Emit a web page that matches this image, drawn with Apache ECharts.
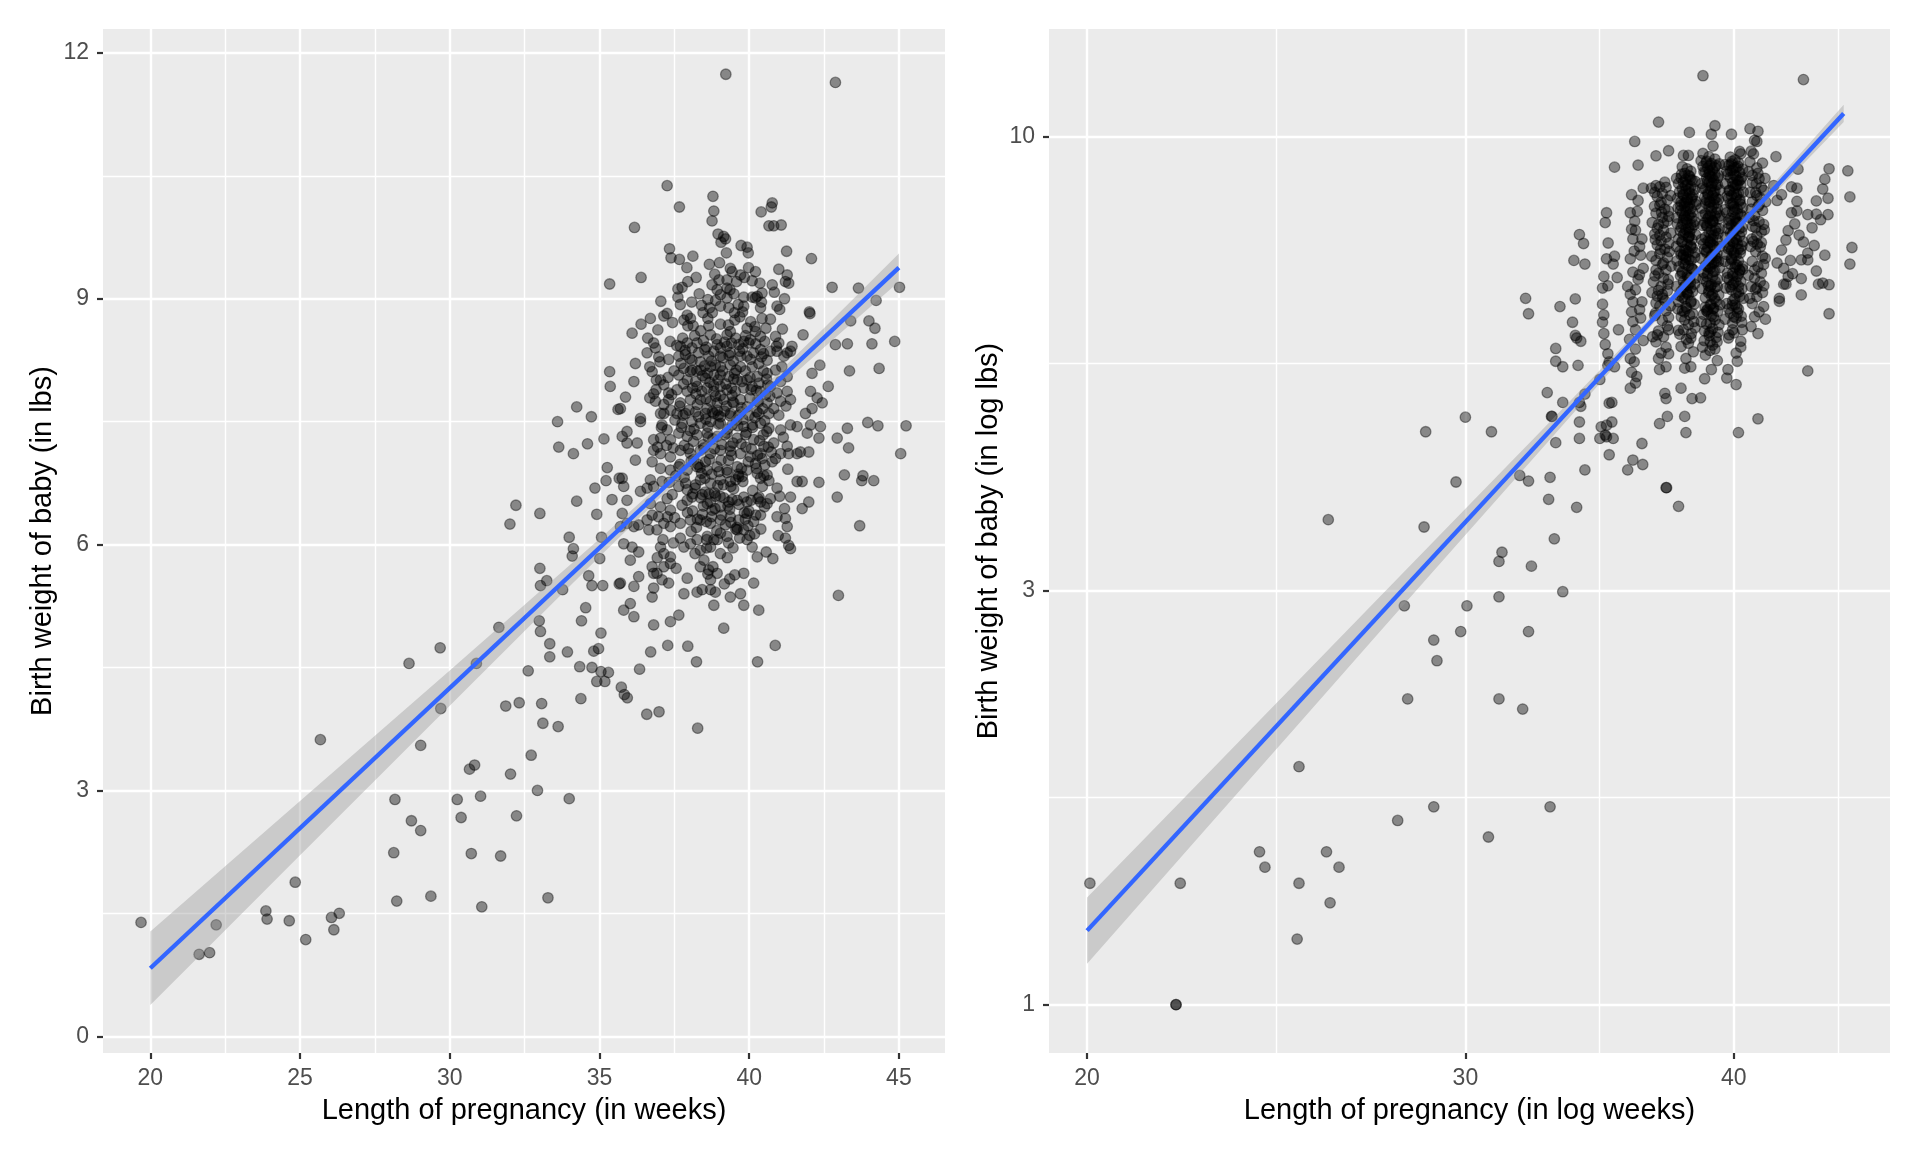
<!DOCTYPE html>
<html><head><meta charset="utf-8">
<script src="https://cdn.jsdelivr.net/npm/echarts@6/dist/echarts.min.js"></script>
<style>html,body{margin:0;padding:0;background:#fff}#c{width:1920px;height:1152px}</style>
</head><body><div id="c"></div>
<script>
// ---------- tick labels / grid breaks ----------
const leftXTicks = [20, 25, 30, 35, 40, 45];
const leftXMinor = [22.5, 27.5, 32.5, 37.5, 42.5];
const leftYTicks = [0, 3, 6, 9, 12];
const leftYMinor = [1.5, 4.5, 7.5, 10.5];
const rightXTicks = [20, 30, 40];
const rightXMinor = [24.49, 34.64, 44.72];
const rightYTicks = [1, 3, 10];
const rightYMinor = [1.732, 5.477];

// ---------- fitted lines and confidence bands ----------
const leftLineWeeks = [20, 45];
const leftLineLbs = [0.83, 9.38];
const leftBandWeeks = [20, 22.5, 25, 27.5, 30, 32.5, 35, 37.5, 40, 42.5, 45];
const leftBandLow  = [0.381, 1.295, 2.209, 3.122, 4.035, 4.945, 5.851, 6.741, 7.591, 8.406, 9.209];
const leftBandHigh = [1.279, 2.075, 2.871, 3.668, 4.465, 5.265, 6.069, 6.889, 7.749, 8.644, 9.551];

const rightLineWeeks = [20, 45];
const rightLineLbs = [1.217, 10.63];
const rightBandWeeks = [20, 22.5, 25, 27.5, 30, 32.5, 35, 37.5, 40, 42.5, 45];
const rightBandLow  = [1.115, 1.552, 2.085, 2.724, 3.476, 4.347, 5.345, 6.463, 7.675, 8.978, 10.39];
const rightBandHigh = [1.329, 1.792, 2.343, 2.985, 3.725, 4.567, 5.521, 6.602, 7.849, 9.279, 10.88];

// ---------- left panel points (weeks, lbs) ----------
const leftSparse = [[19.69,1.39],[21.63,1.00],[21.98,1.02],[22.2,1.36],[23.86,1.53],[23.9,1.43],[24.64,1.41],[24.84,1.88],[25.19,1.18],[25.68,3.62],[26.05,1.45],[26.13,1.30],[26.31,1.50],
[28.13,2.24],[28.17,2.89],[28.23,1.65],[28.64,4.55],[28.72,2.63],[29.03,3.55],[29.03,2.51],[29.37,1.71],[29.68,4.74],[29.70,4.00],[30.25,2.89],[30.38,2.67],[30.66,3.26],[30.72,2.23],[30.83,3.31],[30.89,4.55],[31.03,2.93],[31.07,1.58],[31.64,4.99],[31.70,2.20],[31.87,4.03],[32.01,6.25],[32.03,3.20],[32.21,6.48],[32.23,2.69],[32.32,4.07],[32.62,4.46],[32.72,3.43],[32.93,3.00],[32.99,5.07],[33.01,6.38],[33.01,5.71],[33.03,5.50],[33.03,4.94],[33.07,4.06],[33.11,3.82],[33.24,5.56],[33.28,1.69],[33.34,4.79],[33.34,4.63],[33.60,7.50],[33.62,3.78],[33.64,7.19],[33.77,5.45],[33.93,4.69],[33.99,6.09],[33.99,2.90],[34.13,7.11],[34.09,5.86],[34.13,5.95],[34.24,7.68],[34.24,6.53],[34.34,4.51],[34.38,4.12],[34.40,5.07],[34.54,5.23],[34.60,7.23],[34.64,5.62],[34.73,7.56],[34.75,5.50],[34.75,4.50],[34.81,4.70],[34.85,6.69],[34.91,4.33],[34.91,6.37],[34.97,4.73],[35.01,5.83],[35.05,4.45],[35.05,4.92],[35.07,6.09],[35.11,5.50],[35.15,7.29],[35.18,4.33],[35.22,6.78],[35.26,6.94],[35.30,4.44],[35.34,9.18],[35.34,8.11],[35.36,7.93],[35.42,6.55],[35.62,7.65],[35.66,5.52],[35.66,6.81],[35.73,4.26],[35.83,4.17],[35.93,4.13],[36.34,4.48],[36.58,3.93],[36.71,4.69],[36.99,3.96],[37.26,10.38],[37.28,4.77],[37.95,4.76],[38.24,4.57],[38.28,3.76],[38.79,10.25],[39.22,11.74],[40.28,4.57],[40.87,4.77],[42.88,11.64],[42.98,5.38],[42.94,6.58],[42.94,7.30],
[43.18,6.85],[43.28,7.42],[43.32,7.18],[43.35,8.12],[43.28,8.45],[43.39,8.73],[43.65,9.13],[43.69,6.23],[43.76,6.78],[43.80,6.84],[43.96,7.49],[44.0,8.73],[44.1,8.45],[44.16,6.78],[44.2,8.64],[44.24,8.98],[44.3,7.45],[44.34,8.15],[44.86,8.48],[45.02,9.14],[45.06,7.11],[45.24,7.45]];

const leftUpper = [[37.67,10.12],[38.82,10.07],[38.76,9.95],[36.17,9.87],[40.40,10.06],[40.77,10.17],[40.74,10.12],[40.66,9.89],[40.82,9.89],[41.07,9.90],[38.96,9.79],[39.15,9.76],[39.21,9.73],[39.06,9.69],[37.34,9.61],[37.39,9.50],[37.67,9.48],[38.12,9.52],[39.24,9.56],[39.73,9.65],[39.93,9.63],[39.97,9.56],[41.25,9.58],[42.08,9.49],[36.39,9.26],[39.37,9.37],[39.43,9.33],[38.85,9.30],[38.99,9.23],[39.26,9.23],[39.71,9.29],[39.84,9.26],[40.10,9.22],[40.21,9.33],[40.99,9.36],[41.27,9.29],[41.32,9.19],[41.21,9.21],[42.77,9.14],[40.77,9.17],[40.84,9.08],[37.95,9.21],[37.76,9.14],[37.62,9.12],[37.62,9.02],[38.76,9.17],[38.93,9.11],[39.26,9.13],[39.04,9.05],[39.26,9.01],[39.49,9.06],[39.82,9.02],[40.10,9.02],[40.27,9.03],[40.43,9.07],[41.18,9.00],[38.62,8.99],[38.68,8.89],[38.62,8.76],[39.04,8.91],[39.32,8.89],[39.51,8.83],[39.69,8.78],[37.70,8.93],[37.93,8.80],[38.04,8.76],[37.82,8.74],[37.95,8.67],[37.26,8.82],[37.15,8.79],[36.70,8.76],[36.39,8.69],[36.09,8.58],[39.82,8.91],[40.38,8.89],[40.43,8.76],[40.21,9.01],[40.93,8.91],[41.02,8.87],[42.03,8.82],[42.01,8.84],[38.65,8.67],[38.71,8.56],[39.04,8.69],[39.26,8.56],[39.37,8.60],[39.93,8.64],[40.04,8.50],[40.21,8.60],[40.38,8.54],[40.88,8.54],[40.91,8.42],[40.99,8.46],[41.43,8.42],[41.27,8.34],[41.80,8.56],[42.88,8.44],[42.36,8.19],[42.64,7.93],[42.10,8.09],[42.05,7.87],[42.27,7.79],[42.44,7.73],[42.10,7.66],[41.88,7.60],[36.61,8.52],[36.81,8.46],[36.87,8.40],[36.59,8.34],[36.20,8.21],[36.15,7.99],[35.87,7.80],[35.70,7.66],[36.68,8.17],[36.76,8.11],[36.98,8.29],[37.31,8.26],[36.90,8.01],[37.04,8.01],[37.15,7.95],[36.81,7.84],[36.68,7.79],[36.87,7.75],[37.15,7.71],[37.31,7.85],[37.31,7.77],[37.15,7.60],[36.37,7.54],[37.04,7.60]];

const leftCoreA = [[37.70,8.42],[37.93,8.46],[38.09,8.40],[38.26,8.46],[37.65,8.30],[37.87,8.32],[38.09,8.25],[38.37,8.23],[38.65,8.30],[38.82,8.36],[39.04,8.40],[39.26,8.42],[39.04,8.30],[39.37,8.34],[39.65,8.44],[39.82,8.48],[39.99,8.46],[39.71,8.30],[39.93,8.30],[40.15,8.34],[40.38,8.38],[40.71,8.36],[40.93,8.36],[41.16,8.30],[41.38,8.36],[40.60,8.25],[40.32,8.21],[40.10,8.17],[39.71,8.17],[39.37,8.19],[39.04,8.17],[38.71,8.17],[38.37,8.13],[38.09,8.13],[37.82,8.15],[37.65,8.07],[37.93,8.01],[38.21,7.99],[38.54,8.03],[38.82,8.07],[39.04,8.07],[39.32,8.05],[39.60,8.01],[39.93,8.01],[40.27,8.05],[40.60,8.09],[40.88,8.13],[41.05,7.99],[41.27,8.05],[37.59,7.89],[37.93,7.87],[38.26,7.93],[38.60,7.91],[38.82,7.87],[39.04,7.93],[39.26,7.89],[39.54,7.87],[39.82,7.91],[40.10,7.93],[40.38,7.87],[40.71,7.93],[40.93,7.85],[41.27,7.87],[41.38,7.77],[37.70,7.73],[38.04,7.77],[38.37,7.77],[38.71,7.75],[38.93,7.73],[39.15,7.77],[39.49,7.73],[39.71,7.77],[39.93,7.68],[40.27,7.75],[40.60,7.73],[40.82,7.66],[41.05,7.75],[37.59,7.60],[37.87,7.60],[38.21,7.62],[38.54,7.60],[38.82,7.60],[39.04,7.56],[39.37,7.60],[39.65,7.58],[39.99,7.58],[40.32,7.60],[40.66,7.60],[40.99,7.58]];

const leftCoreB = [[36.37,7.50],[37.09,7.46],[37.26,7.40],[37.76,7.48],[38.09,7.50],[38.37,7.48],[38.71,7.50],[39.04,7.48],[39.43,7.46],[39.82,7.44],[40.10,7.46],[40.38,7.48],[40.66,7.42],[41.05,7.40],[41.38,7.46],[41.60,7.44],[42.05,7.46],[42.38,7.44],[42.33,7.30],[41.94,7.36],[41.71,7.13],[41.99,7.13],[41.27,7.20],[40.82,7.24],[40.49,7.20],[40.15,7.28],[39.88,7.34],[39.60,7.30],[39.26,7.36],[38.93,7.32],[38.60,7.36],[38.26,7.34],[37.93,7.32],[37.65,7.36],[37.37,7.28],[37.04,7.30],[36.81,7.28],[35.92,7.38],[35.76,7.32],[35.92,7.24],[36.26,7.24],[36.20,7.03],[36.81,7.15],[37.04,7.11],[36.76,7.01],[37.37,7.07],[37.70,7.15],[38.04,7.11],[38.37,7.15],[38.71,7.11],[39.04,7.15],[39.37,7.20],[39.71,7.11],[40.04,7.07],[40.38,7.11],[40.77,7.01],[40.88,7.05],[41.05,7.11],[41.32,7.11],[41.60,7.11],[37.37,6.91],[37.04,6.93],[36.70,6.79],[36.81,6.71],[36.59,6.69],[36.37,6.65],[35.81,6.71],[35.92,6.54],[35.76,6.81],[37.65,6.95],[37.93,6.91],[38.26,6.95],[38.60,6.91],[38.93,6.95],[39.26,6.91],[39.60,6.95],[39.93,6.91],[40.27,6.87],[40.38,6.81],[40.60,6.85],[40.93,6.69],[41.38,6.58],[41.77,6.77],[41.60,6.77],[42.33,6.76],[41.99,6.52],[41.77,6.44],[38.37,6.79],[38.71,6.75],[39.04,6.79],[39.37,6.77],[39.65,6.83],[37.65,6.71],[37.93,6.67],[38.21,6.73],[37.26,6.56],[37.04,6.46],[37.37,6.42],[36.70,6.50],[36.76,6.36],[36.59,6.30],[36.15,6.22],[35.92,6.26],[35.70,6.22],[35.76,6.38],[37.93,6.54],[38.09,6.58],[38.43,6.61],[38.60,6.50],[38.76,6.42],[39.04,6.46],[39.32,6.52],[39.60,6.54],[39.82,6.58],[39.93,6.52],[40.38,6.52],[40.60,6.50],[40.93,6.34],[41.21,6.32],[41.27,6.22],[40.38,6.36],[40.15,6.28],[39.93,6.38],[39.65,6.30],[39.37,6.34],[39.04,6.30],[38.71,6.26],[38.37,6.30],[38.04,6.30],[37.70,6.26],[37.37,6.22],[37.15,6.26],[36.92,6.18],[36.65,6.18],[36.31,6.24]];

const leftCoreC = [[36.09,5.97],[35.81,6.01],[36.31,5.91],[36.03,5.81],[35.70,5.53],[36.15,5.49],[36.31,5.61],[36.76,5.73],[36.81,5.65],[37.15,5.89],[37.04,5.97],[37.37,5.85],[37.70,6.08],[37.82,5.97],[38.04,6.01],[38.26,6.06],[38.60,6.10],[38.82,6.06],[39.04,6.14],[39.26,6.10],[39.39,6.27],[39.60,6.18],[39.82,6.18],[39.93,6.06],[40.10,5.97],[40.27,5.85],[39.82,5.65],[40.15,5.53],[38.37,5.93],[38.71,5.97],[39.04,5.89],[37.37,5.77],[37.15,5.73],[36.92,5.65],[37.09,5.57],[37.31,5.53],[37.93,5.59],[38.37,5.73],[38.65,5.69],[38.93,5.65],[38.71,5.57],[37.82,5.40],[38.26,5.42],[38.43,5.45],[38.71,5.45],[38.87,5.42],[39.37,5.36],[39.71,5.40],[36.81,5.47],[36.76,5.36],[36.03,5.28],[35.81,5.20],[36.15,5.12],[38.82,5.26],[39.82,5.26],[40.32,5.20],[37.65,5.14],[37.37,5.06],[36.81,5.02],[39.15,4.98],[41.21,6.08],[41.32,5.99],[41.38,5.95]];

const leftCoreD = [[37.78,8.52],[38.18,8.55],[38.47,8.49],[38.91,8.51],[39.18,8.47],[39.55,8.52],[39.88,8.55],[40.22,8.45],[40.52,8.48],
[37.72,8.21],[38.02,8.27],[38.31,8.34],[38.57,8.41],[38.87,8.19],[39.12,8.28],[39.47,8.24],[39.79,8.39],[40.05,8.26],[40.41,8.29],
[37.81,7.96],[38.11,7.91],[38.44,8.06],[38.69,7.98],[38.96,8.01],[39.22,7.96],[39.51,8.09],[39.76,7.99],[40.03,8.04],[40.33,7.97],[40.58,8.02],
[37.68,7.69],[37.99,7.64],[38.27,7.71],[38.59,7.66],[38.88,7.81],[39.17,7.63],[39.43,7.82],[39.74,7.67],[40.02,7.79],[40.26,7.62],[40.55,7.83],
[37.74,7.43],[38.03,7.39],[38.31,7.56],[38.62,7.44],[38.97,7.58],[39.28,7.41],[39.58,7.52],[39.91,7.37],[40.19,7.55],[40.47,7.34],
[37.83,7.21],[38.14,7.26],[38.49,7.18],[38.79,7.29],[39.09,7.22],[39.41,7.09],[39.73,7.23],[40.07,7.17],[40.35,7.27],[40.64,7.19],
[37.69,6.98],[38.06,7.02],[38.41,6.87],[38.67,7.04],[38.99,6.89],[39.31,7.03],[39.63,6.86],[39.97,7.01],[40.24,6.93],[40.52,6.97],
[37.88,6.75],[38.19,6.69],[38.52,6.81],[38.84,6.63],[39.14,6.73],[39.48,6.68],[39.79,6.77],[40.12,6.66],[40.44,6.71],
[37.76,6.48],[38.11,6.41],[38.38,6.57],[38.71,6.52],[39.03,6.59],[39.35,6.43],[39.66,6.49],[39.99,6.41],[40.29,6.56],
[38.24,6.21],[38.57,6.28],[38.92,6.17],[39.21,6.24],[39.55,6.19],[39.87,6.31],[40.18,6.13]];

const leftCoreE = [[37.05,8.97],[37.44,8.71],[37.58,8.43],[37.49,8.12],[37.41,7.83],[37.52,7.52],[37.46,7.18],[37.55,6.84],[37.43,6.61],[37.51,6.33],[37.47,6.02],[37.56,5.71],
[38.33,9.06],[38.46,8.83],[38.38,8.61],[38.51,8.18],[38.42,7.87],[38.55,7.53],[38.47,7.22],[38.36,6.94],[38.53,6.64],[38.44,6.37],[38.58,6.06],[38.49,5.81],
[39.36,9.11],[39.52,8.74],[39.41,8.46],[39.57,8.13],[39.45,7.74],[39.62,7.45],[39.38,7.14],[39.55,6.79],[39.43,6.55],[39.59,6.21],[39.46,5.96],[39.52,5.63],
[40.41,8.96],[40.56,8.64],[40.48,8.33],[40.62,7.95],[40.45,7.66],[40.59,7.38],[40.43,7.05],[40.66,6.78],[40.51,6.46],[40.39,6.19],[40.57,5.91],
[37.92,9.38],[38.23,9.26],[38.67,9.42],[39.01,9.44],[39.58,9.21],[39.98,9.38],[40.36,9.19],[40.71,8.75],[41.11,8.63],[41.09,8.17],[41.23,7.69],[41.14,7.31],[41.29,6.92],[41.02,6.59],[41.18,6.44],[40.97,6.11],[40.79,5.83],
[36.95,8.62],[37.02,8.23],[36.89,7.89],[37.07,7.43],[36.94,7.19],[37.09,6.77],[36.97,6.34],[37.12,6.06],[36.93,5.84],
[38.13,8.67],[38.77,8.83],[39.63,8.93],[40.05,8.72],[38.25,8.12],[38.93,7.64],[39.79,7.53],[40.24,7.88],[38.15,7.04],[38.88,6.59],[39.74,6.93],[40.33,6.58],[38.06,6.16],[38.74,6.34],[39.27,5.84],[39.96,6.23],[38.62,5.64],[39.35,5.58]];

const leftCoreF = [[38.52,8.38],[38.74,8.24],[38.93,8.44],[39.11,8.12],[39.33,8.31],[39.48,8.02],[38.61,8.09],[38.82,7.94],[39.04,7.82],[39.24,7.69],[39.41,7.91],[38.56,7.78],[38.77,7.62],[38.98,7.47],[39.19,7.34],[39.37,7.57],[38.63,7.31],[38.84,7.17],[39.06,7.03],[39.27,6.88],[39.46,7.24],[38.54,7.01],[38.75,6.86],[38.95,6.72],[39.16,6.57],[39.39,6.71],[38.66,6.62],[38.86,6.44],[39.08,6.36],[39.29,6.47],[38.47,6.47],
[37.86,8.37],[38.03,8.11],[38.22,7.84],[37.79,7.58],[38.16,7.41],[37.97,7.17],[38.29,6.98],[37.83,6.82],[38.12,6.62],[37.94,6.39],[38.27,6.31],
[39.68,8.36],[39.87,8.12],[40.06,7.89],[39.72,7.62],[40.11,7.43],[39.89,7.19],[40.21,6.99],[39.77,6.83],[40.06,6.54],[39.84,6.39],[40.22,6.36],
[40.47,8.12],[40.69,7.81],[40.52,7.51],[40.74,7.13],[40.49,6.84],[40.71,6.56],[40.31,7.74],[40.28,7.09],
[37.36,8.48],[37.29,8.04],[37.38,7.64],[37.24,7.21],[37.33,6.76],[37.27,6.34],
[38.41,8.92],[38.88,8.98],[39.31,8.68],[39.78,8.84],[40.19,8.66],[38.08,8.96],
[38.58,5.96],[38.94,6.06],[39.31,6.02],[39.68,6.08],[38.19,5.89],[40.02,6.11],[38.79,5.73],[39.17,5.52]];

// ---------- right panel points (weeks, lbs), plotted on log-log axes ----------
const rightSparse = [[20.06,1.38],[22,1.0],[22,1.0],[22.1,1.38],[24.06,1.50],[24.2,1.44],[25.1,1.38],[25.1,1.88],[25.05,1.19],[25.9,3.62],[25.85,1.50],[25.95,1.31],[26.2,1.44],[27.9,1.63],[28.1,2.88],[28.2,2.25],[28.7,3.55],[28.75,4.57],[29.0,2.63],[29.1,2.49],[29.0,1.69],[29.7,4.0],[29.85,2.69],[30.0,4.75],[30.05,2.88],[30.75,1.56],[30.85,4.57],[31.1,2.25],[31.1,2.95],[31.1,3.24],[31.2,3.32],[31.8,4.07],[31.9,2.19],[32.1,2.69],[32.1,4.01],[32.1,6.25],[32.0,6.51],[32.2,3.20],[38.7,11.75],[43.1,11.63]];

const rightCol33to36 = [[33.8,3.74],[33.9,4.69],[33.9,4.49],[34.1,4.13],[33.9,4.94],[33.85,5.45],[33.75,6.5],[34.05,7.53],[33.9,7.71],[33.7,7.2],[34.1,7.13],[33.65,6.11],[33.75,5.9],[33.95,5.81],[33.8,5.86],[34.1,5.05],[33.95,4.89],[33.3,5.43],
[32.8,3.82],[32.85,4.05],[32.85,1.69],[32.9,4.76],[32.92,4.76],[33.0,3.44],[33.05,4.44],[32.75,5.07],[33.05,5.51],[33.05,5.7],[33.2,6.37],[33.3,4.94],[33.3,2.99],
[35.2,9.22],[34.9,8.17],[34.85,7.96],[34.96,7.54],[34.9,7.23],[35.2,7.28],[35.15,7.13],[35.3,6.88],[34.8,6.9],[34.95,6.73],[34.75,6.69],[34.75,6.41],[34.8,6.23],[34.75,6.11],[34.8,5.93],[34.85,5.76],[34.95,5.62],[34.95,5.45],[35.2,5.43],[35.0,5.5],[35.35,5.99],[34.65,5.25],[35.1,4.94],[35.0,4.93],[35.1,4.69],[34.9,4.65],[34.7,4.63],[34.85,4.53],[34.9,4.51],[35.15,4.49],[34.65,4.49],[35.0,4.3],
[35.97,9.87],[36.1,9.27],[35.85,8.57],[36.3,8.72],[36.07,8.2],[35.8,8.17],[35.97,7.99],[36.0,7.8],[35.9,7.62],[36.16,7.47],[35.8,7.23],[36.3,7.05],[35.9,6.98],[35.7,6.72],[36.0,6.66],[35.85,6.28],[36.16,6.32],[36.0,5.99],[36.2,6.18],[35.77,5.84],[36.0,5.69],[35.8,5.55],[35.95,5.5],[36.0,5.2],[35.8,5.13],[36.05,5.29],[36.25,4.43],[35.9,4.24],[36.28,4.19],[35.7,4.13],[36.1,6.85],[35.9,6.45],[36.2,7.3],
[36.1,8.44],[35.85,7.82],[36.25,7.62],[35.95,7.38],[36.15,6.93],[35.8,6.58],[36.25,6.45],[35.9,6.12],[36.3,5.82],[35.85,5.35]];

const rightCol37 = [[36.9,10.39],[36.8,9.5],[37.3,9.63],[36.8,8.78],[36.95,8.75],[37.2,8.74],[37.05,8.6],[36.85,8.53],[37.25,8.45],[36.95,8.34],[37.15,8.25],[36.8,8.16],[37.05,8.07],[37.25,7.99],[36.9,7.92],[37.1,7.8],[36.75,7.72],[37.2,7.66],[37.0,7.58],[36.85,7.5],[37.15,7.42],[36.95,7.33],[37.25,7.26],[36.8,7.2],[37.05,7.12],[37.2,7.02],[36.9,6.96],[37.1,6.87],[36.7,6.8],[37.0,6.72],[37.25,6.64],[36.85,6.55],[37.15,6.47],[36.95,6.38],[37.2,6.3],[36.75,6.22],[37.05,6.14],[37.25,6.05],[36.9,5.97],[37.1,5.88],[36.8,5.8],[37.2,5.72],[37.0,5.63],[36.9,5.55],[36.94,5.39],[37.2,5.43],[37.15,5.06],[37.2,4.99],[36.94,4.67],[37.25,4.76],[37.2,3.94],[37.22,3.94],[37.0,8.4],[37.1,7.15],[36.9,6.65],[37.1,7.95],
[36.75,8.62],[37.3,8.21],[36.85,7.84],[37.3,7.53],[36.8,7.02],[37.28,6.76],[36.8,6.43],[37.3,6.19],[36.85,5.91],[37.3,5.62],[37.05,6.58],[36.95,7.7],[37.15,8.86],
[36.62,8.72],[37.38,8.55],[36.74,8.31],[37.31,8.09],[36.65,7.96],[37.39,7.74],[36.77,7.61],[37.33,7.37],[36.63,7.28],[37.4,7.09],[36.76,6.91],[37.29,6.84],[36.64,6.61],[37.37,6.38],[36.78,6.26],[37.3,5.99],[36.67,5.88],[37.02,8.18],[36.98,7.41],[37.06,6.52]];

const rightCol38 = [[38.14,10.11],[37.9,9.51],[38.1,9.51],[37.85,9.23],[38.05,9.18],[38.2,9.12],[37.95,9.07],[38.1,9.02],[37.8,8.96],[38.25,8.91],[37.9,8.86],[38.05,8.81],[38.2,8.76],[37.85,8.71],[38.0,8.66],[38.15,8.61],[37.9,8.56],[38.25,8.51],[38.05,8.46],[37.8,8.41],[38.15,8.36],[37.95,8.31],[38.2,8.26],[38.0,8.21],[37.85,8.16],[38.1,8.11],[38.25,8.06],[37.9,8.01],[38.05,7.96],[38.2,7.91],[37.8,7.86],[38.0,7.81],[38.15,7.76],[37.9,7.71],[38.1,7.66],[38.25,7.61],[37.85,7.56],[38.05,7.51],[38.2,7.46],[37.95,7.41],[38.1,7.36],[37.8,7.31],[38.0,7.26],[38.2,7.2],[37.9,7.15],[38.1,7.1],[38.25,7.04],[37.85,6.99],[38.05,6.93],[38.15,6.87],[37.9,6.81],[38.0,6.75],[38.2,6.69],[37.8,6.63],[38.1,6.57],[37.95,6.5],[38.2,6.44],[38.0,6.37],[37.85,6.3],[38.15,6.23],[37.95,6.15],[38.1,6.07],[37.9,5.99],[38.2,5.86],[38.1,5.78],[37.8,5.73],[38.0,5.55],[38.2,5.43],[37.95,5.41],[37.8,5.13],[38.25,4.99],[38.6,5.0],[37.95,4.76],[38.0,4.56],[37.7,3.75],[38.0,8.4],[38.1,7.85],[37.9,7.3],[38.05,6.6],[38.15,9.0],[37.95,8.1],
[37.82,9.05],[38.18,8.93],[37.97,8.78],[38.12,8.69],[37.88,8.58],[38.22,8.47],[37.93,8.38],[38.08,8.29],[37.78,8.22],[38.17,8.13],[38.02,8.03],[37.87,7.93],[38.23,7.84],[37.96,7.75],[38.11,7.65],[37.83,7.57],[38.19,7.49],[38.01,7.39],[37.89,7.3],[38.13,7.22],[37.97,7.13],[38.24,7.05],[37.84,6.96],[38.07,6.89],[38.18,6.79],[37.92,6.71],[38.04,6.62],[37.86,6.53],[38.21,6.46],[38.03,6.34],
[37.7,8.83],[38.35,8.69],[37.68,8.28],[38.35,7.98],[37.7,7.62],[38.38,7.35],[37.72,7.08],[38.35,6.76],[37.7,6.45],[38.32,6.12],[37.75,5.92],[38.3,5.65],[38.4,8.35],[37.65,7.93],
[37.62,8.95],[38.38,8.88],[37.74,8.64],[38.29,8.57],[37.66,8.49],[38.41,8.42],[37.79,8.33],[38.27,8.19],[37.63,8.06],[38.33,7.91],[37.77,7.79],[38.39,7.71],[37.61,7.47],[38.26,7.44],[37.76,7.38],[38.36,7.26],[37.64,7.19],[38.31,7.02],[37.78,6.91],[38.4,6.87],[37.62,6.72],[38.27,6.63],[37.73,6.56],[38.34,6.41],[37.67,6.33],[38.28,6.25],[37.81,6.2],[38.37,6.02],[37.69,5.98],[38.22,5.93],[37.98,8.92],[38.06,8.49],[37.92,8.07],[38.14,7.68],[37.99,7.21],[38.09,6.74],[37.94,6.28],[38.02,5.84]];

const rightCol39 = [[39.2,10.29],[39.05,10.06],[39.12,9.75],[38.7,9.56],[38.95,9.48],[39.2,9.42],[38.85,9.37],[39.05,9.31],[39.25,9.26],[38.9,9.2],[39.1,9.15],[38.8,9.1],[39.2,9.05],[39.0,9.0],[38.85,8.95],[39.15,8.9],[38.95,8.85],[39.3,8.8],[39.05,8.75],[38.8,8.7],[39.2,8.65],[38.9,8.6],[39.1,8.55],[39.25,8.5],[38.85,8.45],[39.0,8.4],[39.15,8.35],[38.95,8.3],[39.3,8.25],[39.05,8.2],[38.8,8.15],[39.2,8.1],[38.9,8.05],[39.1,8.0],[39.0,7.95],[38.85,7.9],[39.25,7.85],[39.05,7.8],[38.95,7.75],[39.15,7.7],[38.8,7.65],[39.3,7.6],[39.0,7.55],[39.1,7.5],[38.9,7.45],[39.2,7.4],[38.85,7.35],[39.05,7.3],[39.25,7.25],[38.95,7.2],[39.15,7.15],[38.8,7.1],[39.0,7.05],[39.2,7.0],[38.9,6.95],[39.1,6.9],[39.3,6.85],[38.85,6.8],[39.05,6.75],[39.2,6.7],[38.95,6.64],[39.1,6.58],[38.8,6.52],[39.25,6.46],[39.0,6.4],[39.15,6.34],[38.9,6.28],[39.05,6.22],[39.2,6.15],[38.85,6.08],[39.1,6.01],[38.95,5.94],[39.25,5.87],[39.0,5.8],[39.2,5.69],[38.8,5.6],[39.05,5.39],[38.77,5.26],[39.0,8.12],[39.1,7.62],[38.9,7.08],[39.05,6.55],[39.15,8.62],[38.95,9.05],[39.2,7.28],[38.85,6.3],
[38.83,9.33],[39.18,9.21],[38.97,9.12],[39.08,8.98],[38.88,8.87],[39.23,8.79],[39.02,8.68],[38.92,8.57],[39.17,8.47],[38.82,8.38],[39.07,8.28],[39.27,8.17],[38.94,8.08],[39.12,7.97],[38.87,7.88],[39.22,7.79],[39.03,7.69],[38.91,7.58],[39.16,7.48],[38.84,7.38],[39.08,7.29],[39.26,7.19],[38.97,7.09],[39.13,6.99],[38.86,6.9],[39.21,6.81],[39.01,6.71],[38.93,6.61],[39.18,6.51],[39.04,6.41],[38.89,6.32],[39.14,6.2],[39.0,6.1],[38.96,5.9],[39.1,5.75],
[38.7,9.24],[39.35,9.02],[38.68,8.72],[39.35,8.46],[38.7,8.11],[39.38,7.83],[38.72,7.52],[39.35,7.18],[38.7,6.86],[39.36,6.57],[38.72,6.24],[39.33,5.95],[38.75,5.82],[39.3,5.52],[38.68,7.9],[39.4,8.1],
[38.62,9.38],[39.38,9.3],[38.74,9.11],[39.31,8.96],[38.65,8.83],[39.41,8.68],[38.77,8.51],[39.29,8.39],[38.63,8.27],[39.37,8.04],[38.78,7.96],[39.33,7.73],[38.64,7.61],[39.4,7.47],[38.76,7.41],[39.28,7.33],[38.62,7.24],[39.39,7.06],[38.73,6.97],[39.3,6.72],[38.66,6.68],[39.41,6.4],[38.79,6.36],[39.32,6.29],[38.63,6.12],[39.37,6.07],[38.77,5.97],[39.29,5.8],[38.68,5.72],[39.0,9.26],[39.08,8.83],[38.97,8.42],[39.11,7.99],[38.99,7.57],[39.06,7.14],[38.93,6.73],[39.12,6.33],[39.02,5.96],[38.99,5.67]];

const rightCol40 = [[39.9,10.06],[40.25,9.61],[40.3,9.55],[39.85,9.47],[40.05,9.4],[40.2,9.33],[39.8,9.27],[40.1,9.21],[39.95,9.15],[40.25,9.09],[40.0,9.03],[39.85,8.97],[40.15,8.91],[39.95,8.85],[40.3,8.79],[40.05,8.73],[39.8,8.67],[40.2,8.61],[39.9,8.55],[40.1,8.49],[40.25,8.43],[39.85,8.37],[40.0,8.31],[40.15,8.25],[39.95,8.19],[40.3,8.13],[40.05,8.07],[39.8,8.01],[40.2,7.96],[39.9,7.9],[40.1,7.85],[40.0,7.79],[39.85,7.74],[40.25,7.68],[40.05,7.63],[39.95,7.57],[40.15,7.52],[39.8,7.46],[40.3,7.41],[40.0,7.35],[40.1,7.3],[39.9,7.24],[40.2,7.19],[39.85,7.13],[40.05,7.07],[40.25,7.02],[39.95,6.96],[40.15,6.9],[39.8,6.84],[40.0,6.78],[40.2,6.72],[39.9,6.66],[40.1,6.6],[40.25,6.54],[39.95,6.47],[40.05,6.4],[40.2,6.33],[39.85,6.26],[40.1,6.18],[39.95,6.1],[40.3,5.81],[39.95,5.99],[40.1,5.63],[40.15,5.51],[39.75,5.39],[39.7,5.27],[40.1,5.18],[40.2,4.56],[40.0,8.6],[40.1,8.0],[39.9,7.4],[40.2,6.95],[40.0,6.2],[39.9,9.3],[40.15,8.8],
[39.93,9.36],[40.18,9.24],[39.87,9.13],[40.08,9.01],[40.22,8.89],[39.97,8.77],[39.83,8.66],[40.12,8.57],[40.27,8.46],[39.92,8.35],[40.03,8.24],[40.17,8.15],[39.86,8.05],[40.07,7.94],[40.23,7.83],[39.94,7.72],[40.11,7.61],[39.82,7.52],[40.19,7.42],[40.02,7.32],[39.91,7.21],[40.14,7.11],[40.26,7.01],[39.96,6.91],[40.09,6.81],[39.84,6.71],[40.21,6.62],[40.04,6.5],[39.93,6.39],[40.16,6.27],
[39.7,9.12],[40.35,8.98],[39.72,8.54],[40.38,8.28],[39.7,8.17],[40.36,7.86],[39.74,7.83],[40.35,7.48],[39.7,7.31],[40.38,7.09],[39.72,6.88],[40.35,6.68],[39.7,6.42],[40.34,6.11],[39.8,5.91],[40.3,5.72],
[39.62,9.28],[40.38,9.17],[39.74,9.04],[40.31,8.93],[39.65,8.82],[40.41,8.63],[39.77,8.49],[40.29,8.36],[39.63,8.24],[40.37,8.09],[39.78,7.94],[40.33,7.77],[39.64,7.66],[40.4,7.57],[39.76,7.43],[40.28,7.34],[39.62,7.18],[40.39,7.03],[39.73,6.96],[40.3,6.81],[39.66,6.69],[40.41,6.51],[39.79,6.33],[40.32,6.21],[39.63,6.16],[40.37,5.99],[39.77,5.86],[40.02,9.21],[40.09,8.79],[39.97,8.38],[40.12,7.97],[39.99,7.55],[40.07,7.12],[39.94,6.75],[40.13,6.36],[40.01,5.94]];

const rightCol41to45 = [[40.7,10.21],[41.05,10.14],[40.9,9.9],[41.0,9.87],[40.85,9.55],[40.7,9.35],[41.0,9.2],[41.05,9.07],[41.1,8.94],[40.8,8.85],[41.2,8.74],[40.95,8.62],[41.15,8.5],[40.8,8.41],[41.05,8.3],[41.25,8.22],[40.9,8.11],[41.1,7.98],[40.8,7.88],[41.2,7.77],[41.0,7.68],[40.85,7.57],[41.15,7.46],[40.95,7.37],[41.25,7.28],[40.8,7.18],[41.05,7.08],[41.2,6.96],[40.9,6.87],[41.0,6.69],[41.0,6.54],[40.8,6.42],[41.3,6.37],[41.1,6.28],[40.75,6.04],[41.05,5.93],[41.05,4.73],[41.15,6.8],[40.9,7.02],[41.0,8.55],[40.85,8.0],[41.2,7.55],
[40.75,9.62],[41.25,9.32],[40.8,9.02],[41.3,8.67],[40.75,8.25],[41.3,7.92],[40.78,7.62],[41.3,7.12],[40.75,6.72],[41.25,6.61],[40.95,7.85],[41.1,8.35],[40.9,6.2],
[40.64,9.11],[41.36,8.95],[40.71,8.62],[41.39,8.41],[40.66,8.07],[41.33,7.81],[40.73,7.47],[41.37,7.24],[40.63,6.92],[41.31,6.73],[40.69,6.51],[41.38,6.16],[40.97,8.82],[41.02,7.52],[40.94,6.67],
[41.85,9.48],[42.85,9.17],[44.3,9.18],[45.2,9.13],[44.1,8.93],[41.75,8.78],[42.55,8.75],[42.8,8.72],[44.0,8.70],[42.1,8.57],[45.3,8.52],[44.25,8.49],[43.7,8.43],[42.8,8.42],[41.9,8.44],[42.8,8.21],[42.55,8.17],[43.3,8.13],[44.25,8.13],[43.7,8.14],[43.9,8.02],[42.7,7.93],[42.4,7.79],[43.1,7.56],[43.6,7.49],[45.4,7.45],[43.3,7.34],[43.0,7.21],[43.3,7.21],[45.3,7.13],[42.3,6.76],[42.2,6.76],[43.8,6.76],[44.0,6.78],[42.0,6.46],[44.3,6.25],[43.3,5.37],[42.0,6.51],[43.0,6.86],[43.0,6.57],[44.3,6.75],
[42.3,7.6],[42.1,7.4],[42.5,7.2],[42.2,7.05],[42.6,6.95],[41.9,7.15],[42.9,7.7],[43.5,7.85],[44.1,7.3],[43.7,7.0],[42.4,6.9]];

// ---------- axis extents ----------
const leftXRange = [18.42, 46.54], leftYRange = [-0.204, 12.292];
const rightXRange = [19.2, 47.29], rightYRange = [0.8797, 13.30];

const leftPoints = [].concat(leftSparse, leftUpper, leftCoreA, leftCoreB, leftCoreC, leftCoreD, leftCoreE, leftCoreF);
const rightPoints = [].concat(rightSparse, rightCol33to36, rightCol37, rightCol38, rightCol39, rightCol40, rightCol41to45);

const FONT = 'Liberation Sans, Arial, Helvetica, sans-serif';
const L = Math.log;
const id = v => v;
const PANEL_BG = '#EBEBEB';

function majorAxis(gridIndex, dim, range, ticks, tf, name, fmt, nameGap) {
  const t = ticks.map(tf);
  return {
    gridIndex, type: 'value', min: tf(range[0]), max: tf(range[1]),
    position: dim === 'x' ? 'bottom' : 'left',
    axisLine: {show: false, onZero: false},
    axisTick: {show: true, customValues: t, length: 6, lineStyle: {color: '#333333', width: 2.2}},
    axisLabel: {show: true, customValues: t, margin: 14, color: '#4D4D4D',
      fontSize: 23, fontFamily: FONT, formatter: fmt},
    splitLine: {show: true, customValues: t, lineStyle: {color: '#FFFFFF', width: 2.4}},
    name, nameLocation: 'middle', nameGap,
    nameTextStyle: {color: '#000000', fontSize: 29, fontFamily: FONT}
  };
}
function minorAxis(gridIndex, dim, range, ticks, tf) {
  const t = ticks.map(tf);
  return {
    gridIndex, type: 'value', min: tf(range[0]), max: tf(range[1]),
    position: dim === 'x' ? 'top' : 'right',
    axisLine: {show: false, onZero: false},
    axisTick: {show: false, customValues: t},
    axisLabel: {show: false, customValues: t},
    splitLine: {show: true, customValues: t, lineStyle: {color: '#FFFFFF', width: 1.4}}
  };
}
function bandSeries(xi, yi, xs, lo, hi, tx, ty) {
  return {
    type: 'custom', xAxisIndex: xi, yAxisIndex: yi, silent: true, z: 3,
    data: [[tx(xs[0]), ty(lo[0])]],
    renderItem: function (params, api) {
      const pts = [];
      for (let i = 0; i < xs.length; i++) pts.push(api.coord([tx(xs[i]), ty(hi[i])]));
      for (let i = xs.length - 1; i >= 0; i--) pts.push(api.coord([tx(xs[i]), ty(lo[i])]));
      return {type: 'polygon', shape: {points: pts}, style: {fill: 'rgba(153,153,153,0.4)'}};
    }
  };
}
function scatterSeries(xi, yi, pts, tx, ty) {
  return {
    type: 'scatter', xAxisIndex: xi, yAxisIndex: yi, silent: true, z: 2,
    symbol: 'circle', symbolSize: 10.5,
    itemStyle: {color: 'rgba(0,0,0,0.53)', borderColor: 'rgba(0,0,0,0.5)', borderWidth: 1.3},
    data: pts.map(p => [tx(p[0]), ty(p[1])])
  };
}
function lineSeries(xi, yi, xs, ys, tx, ty) {
  return {
    type: 'line', xAxisIndex: xi, yAxisIndex: yi, silent: true, z: 4,
    symbol: 'none', lineStyle: {color: '#3366FF', width: 4.4},
    data: xs.map((x, i) => [tx(x), ty(ys[i])])
  };
}
const logFmt = v => String(Math.round(Math.exp(v)));

const option = {
  animation: false,
  backgroundColor: '#FFFFFF',
  grid: [
    {left: 103, top: 29, width: 842, height: 1024, show: true, backgroundColor: PANEL_BG, borderWidth: 0, containLabel: false},
    {left: 1049, top: 29, width: 841, height: 1024, show: true, backgroundColor: PANEL_BG, borderWidth: 0, containLabel: false}
  ],
  xAxis: [
    majorAxis(0, 'x', leftXRange, leftXTicks, id, 'Length of pregnancy (in weeks)', undefined, 43),
    minorAxis(0, 'x', leftXRange, leftXMinor, id),
    majorAxis(1, 'x', rightXRange, rightXTicks, L, 'Length of pregnancy (in log weeks)', logFmt, 43),
    minorAxis(1, 'x', rightXRange, rightXMinor, L)
  ],
  yAxis: [
    majorAxis(0, 'y', leftYRange, leftYTicks, id, 'Birth weight of baby (in lbs)', undefined, 46),
    minorAxis(0, 'y', leftYRange, leftYMinor, id),
    majorAxis(1, 'y', rightYRange, rightYTicks, L, 'Birth weight of baby (in log lbs)', logFmt, 46),
    minorAxis(1, 'y', rightYRange, rightYMinor, L)
  ],
  series: [
    scatterSeries(0, 0, leftPoints, id, id),
    bandSeries(0, 0, leftBandWeeks, leftBandLow, leftBandHigh, id, id),
    lineSeries(0, 0, leftLineWeeks, leftLineLbs, id, id),
    scatterSeries(2, 2, rightPoints, L, L),
    bandSeries(2, 2, rightBandWeeks, rightBandLow, rightBandHigh, L, L),
    lineSeries(2, 2, rightLineWeeks, rightLineLbs, L, L)
  ]
};
const chart = echarts.init(document.getElementById('c'), null, {renderer: 'canvas'});
chart.setOption(option);
</script>
</body></html>
